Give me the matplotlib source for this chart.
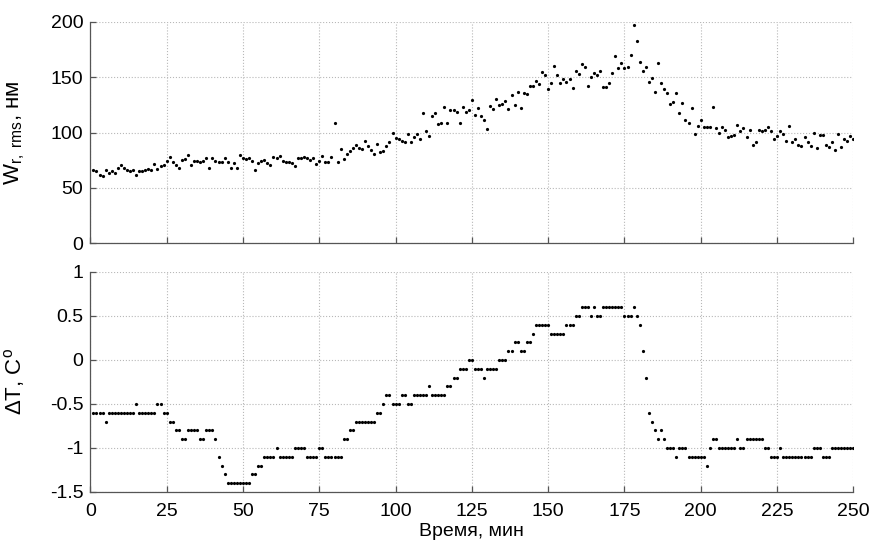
import numpy as np
import matplotlib
matplotlib.use('Agg')
import matplotlib.pyplot as plt

plt.rcParams['font.family'] = ['Liberation Sans', 'DejaVu Sans']
plt.rcParams['mathtext.fontset'] = 'custom'
plt.rcParams['mathtext.rm'] = 'Liberation Sans'
plt.rcParams['mathtext.it'] = 'Liberation Sans:italic'

# время, мин (одна точка в минуту)
t = np.arange(1, 251)

# W_r,rms, нм
w_rms = [
    66, 65, 62, 61, 66, 63.5, 65, 63, 68, 71,
    68, 66, 65, 66, 62, 65, 65, 66, 67, 66,
    72, 67, 69.5, 71, 74.5, 78, 73.5, 71, 67.5, 75,
    76, 80, 71, 74, 74, 73.5, 74, 77, 68, 77,
    74, 73, 73, 77, 73, 68, 72.5, 68, 80, 77,
    76, 77, 74.5, 66, 72.5, 74, 75, 72.5, 71, 78,
    77, 78.5, 74.5, 73, 73, 72.5, 69.5, 77, 77, 78,
    77, 75, 77, 72, 74, 79, 73.5, 73.5, 78, 108.5,
    73.5, 85, 76, 81, 83, 86, 88.5, 86, 85, 92,
    88, 84, 81, 89.5, 82, 83, 88, 91, 100, 95,
    94, 92, 91, 98.5, 91, 96, 98.5, 94, 117.5, 101,
    96.5, 115, 117.5, 107.5, 109, 123.5, 109, 120.5, 120.5, 119,
    108.5, 123.5, 119, 120.5, 129, 116, 122, 115, 111, 103,
    124, 121, 130, 125, 126, 128.5, 121, 134, 125, 137,
    122, 136, 135, 142, 142, 147, 144, 155, 152, 139,
    144.5, 160, 152, 145, 148, 146, 148, 140, 156, 153,
    162, 159, 142, 150, 154, 152, 156, 141, 141, 145,
    154, 169, 158, 163, 158, 159, 170, 197, 183, 164,
    156, 159, 146, 149, 137, 163, 145, 139, 136, 126,
    128, 136, 118, 127, 111, 109, 122, 99, 105.5, 111,
    105, 105, 105, 123, 104, 99.5, 105, 102.5, 96, 97,
    98, 107, 101, 104, 96, 102, 89, 91, 102, 101,
    102, 105, 101, 94, 97, 101, 99, 92, 105.5, 91,
    94, 89, 88, 96, 91, 88, 99.5, 86, 98, 98,
    89, 87, 91, 84, 99, 87, 94.5, 92, 97, 94.5,
]

# ΔT, C°
d_temp = [
    -0.6, -0.6, -0.6, -0.6, -0.7, -0.6, -0.6, -0.6, -0.6, -0.6,
    -0.6, -0.6, -0.6, -0.6, -0.5, -0.6, -0.6, -0.6, -0.6, -0.6,
    -0.6, -0.5, -0.5, -0.6, -0.6, -0.7, -0.7, -0.8, -0.8, -0.9,
    -0.9, -0.8, -0.8, -0.8, -0.8, -0.9, -0.9, -0.8, -0.8, -0.8,
    -0.9, -1.1, -1.2, -1.3, -1.4, -1.4, -1.4, -1.4, -1.4, -1.4,
    -1.4, -1.4, -1.3, -1.3, -1.2, -1.2, -1.1, -1.1, -1.1, -1.1,
    -1.0, -1.1, -1.1, -1.1, -1.1, -1.1, -1.0, -1.0, -1.0, -1.0,
    -1.1, -1.1, -1.1, -1.1, -1.0, -1.0, -1.1, -1.1, -1.1, -1.1,
    -1.1, -1.1, -0.9, -0.9, -0.8, -0.8, -0.7, -0.7, -0.7, -0.7,
    -0.7, -0.7, -0.7, -0.6, -0.6, -0.5, -0.4, -0.4, -0.5, -0.5,
    -0.5, -0.4, -0.4, -0.5, -0.5, -0.4, -0.4, -0.4, -0.4, -0.4,
    -0.3, -0.4, -0.4, -0.4, -0.4, -0.4, -0.3, -0.3, -0.2, -0.2,
    -0.1, -0.1, -0.1, 0.0, 0.0, -0.1, -0.1, -0.1, -0.2, -0.1,
    -0.1, -0.1, -0.1, 0.0, 0.0, 0.0, 0.1, 0.1, 0.2, 0.2,
    0.1, 0.1, 0.2, 0.2, 0.3, 0.4, 0.4, 0.4, 0.4, 0.4,
    0.3, 0.3, 0.3, 0.3, 0.3, 0.4, 0.4, 0.4, 0.5, 0.5,
    0.6, 0.6, 0.6, 0.5, 0.6, 0.5, 0.5, 0.6, 0.6, 0.6,
    0.6, 0.6, 0.6, 0.6, 0.5, 0.5, 0.5, 0.6, 0.5, 0.4,
    0.1, -0.2, -0.6, -0.7, -0.8, -0.9, -0.8, -0.9, -1.0, -1.0,
    -1.0, -1.1, -1.0, -1.0, -1.0, -1.1, -1.1, -1.1, -1.1, -1.1,
    -1.1, -1.2, -1.0, -0.9, -0.9, -1.0, -1.0, -1.0, -1.0, -1.0,
    -1.0, -0.9, -1.0, -1.0, -0.9, -0.9, -0.9, -0.9, -0.9, -0.9,
    -1.0, -1.0, -1.1, -1.1, -1.1, -1.0, -1.1, -1.1, -1.1, -1.1,
    -1.1, -1.1, -1.1, -1.1, -1.1, -1.1, -1.0, -1.0, -1.0, -1.1,
    -1.1, -1.1, -1.0, -1.0, -1.0, -1.0, -1.0, -1.0, -1.0, -1.0,
]

x_ticks = [0, 25, 50, 75, 100, 125, 150, 175, 200, 225, 250]
w_ticks = [0, 50, 100, 150, 200]
dt_ticks = [-1.5, -1, -0.5, 0, 0.5, 1]
dt_ticklabels = ['-1.5', '-1', '-0.5', '0', '0.5', '1']

fig = plt.figure(figsize=(8.73, 5.5), dpi=100)
ax1 = fig.add_axes([0.1035, 0.558, 0.874, 0.402])
ax2 = fig.add_axes([0.1035, 0.1055, 0.874, 0.4])

def style(ax):
    for s in ['top', 'right']:
        ax.spines[s].set_visible(False)
    for s in ['left', 'bottom']:
        ax.spines[s].set_color('#555555')
        ax.spines[s].set_linewidth(0.9)
    ax.tick_params(direction='in', length=4, width=0.9, color='#555555',
                   labelsize=14, pad=5)
    ax.tick_params(axis='x', pad=8)
    ax.grid(True, linestyle=':', color='#b8b8b8', linewidth=0.8)
    ax.set_axisbelow(True)
    ax.set_xlim(0, 250)
    ax.set_xticks(x_ticks)

ax1.plot(t, w_rms, 'o', color='black', markersize=2.3, markeredgewidth=0)
style(ax1)
ax1.set_ylim(0, 200)
ax1.set_yticks(w_ticks)
ax1.set_xticklabels([])
ax1.set_ylabel('W$_{\\mathrm{r,\\ rms}}$, нм', fontsize=16)
ax1.yaxis.set_label_coords(-0.083, 0.5)

ax2.plot(t, d_temp, 'o', color='black', markersize=2.3, markeredgewidth=0)
style(ax2)
ax2.set_ylim(-1.5, 1)
ax2.set_yticks(dt_ticks)
ax2.set_yticklabels(dt_ticklabels)
ax2.set_xlabel('Время, мин', fontsize=14, labelpad=2)
ax2.set_ylabel('ΔT, C$^{\\mathrm{o}}$', fontsize=16)
ax2.yaxis.set_label_coords(-0.083, 0.5)

fig.savefig('out.png', dpi=100)
